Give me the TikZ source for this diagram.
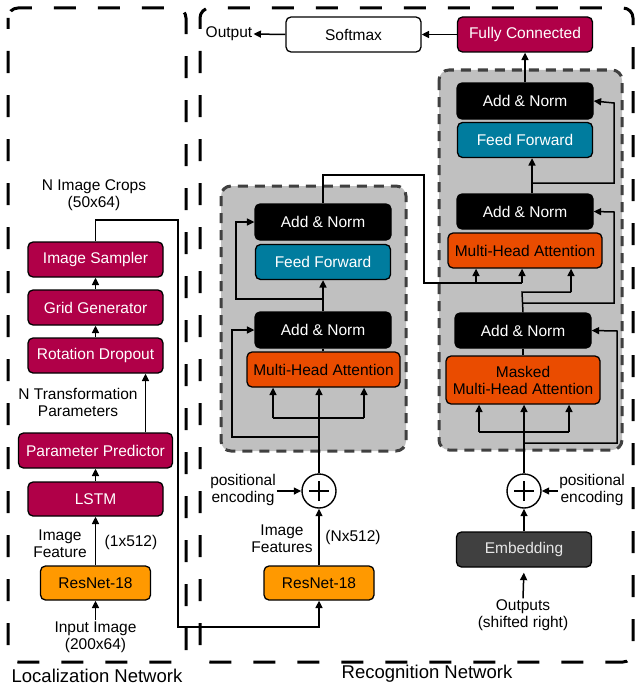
\documentclass[tikz,border=0pt]{standalone}
\usepackage{fontspec}
\setmainfont{Liberation Sans}
\usetikzlibrary{arrows.meta,calc}
\definecolor{crim}{RGB}{176,0,72}
\definecolor{resor}{RGB}{255,153,0}
\definecolor{mhaor}{RGB}{234,76,0}
\definecolor{teal}{RGB}{0,124,158}
\definecolor{blockgray}{RGB}{192,192,192}
\definecolor{blockedge}{RGB}{64,64,64}
\definecolor{embgray}{RGB}{64,64,64}
\definecolor{embtext}{RGB}{230,230,230}
\begin{document}
\begin{tikzpicture}[x=1pt,y=-1pt,
  every node/.style={font=\fontsize{15.5}{17}\selectfont},
  box/.style={draw=black, line width=1.3pt, rounded corners=5pt, inner sep=0pt, align=center},
  crimbox/.style={box, fill=crim, text=white, minimum width=135pt, minimum height=35pt},
  resbox/.style={box, fill=resor, text=black, minimum width=110pt, minimum height=34pt},
  mhabox/.style={box, fill=mhaor, text=black, minimum width=153pt, minimum height=35pt},
  normbox/.style={box, fill=black, text=white, minimum width=136pt, minimum height=36pt},
  ffbox/.style={box, fill=teal, text=white, minimum width=135pt, minimum height=35pt},
  plain/.style={align=center, inner sep=1pt},
  outerdash/.style={draw=black, line width=3pt, rounded corners=10pt, dash pattern=on 22pt off 22pt, dash phase=11pt},
  blockdash/.style={draw=blockedge, fill=blockgray, line width=3pt, rounded corners=10pt, dash pattern=on 10pt off 7pt},
  conn/.style={line width=1.5pt},
  arr/.style={line width=1.5pt, -{Triangle[length=7.5pt,width=7pt]}},
  sumnode/.style={circle, draw=black, line width=1.4pt, minimum size=34pt, inner sep=0pt}
]
\useasboundingbox (0,0) rectangle (637,685);

% outer regions
\draw[outerdash] (8,8) rectangle (186,662);
\draw[outerdash] (200,8) rectangle (633,662);
\node[plain, font=\fontsize{18.5}{20}\selectfont] (locl) at (97,675.5) {Localization Network};
\node[plain, font=\fontsize{18.5}{20}\selectfont] (recl) at (427,674) {Recognition Network};

% transformer blocks
\draw[blockdash] (221,186) rectangle (406,451);
\draw[blockdash] (439,70) rectangle (622,450);

% ---------------- Localization network ----------------
\node[crimbox] (sampler) at (95.5,259.5) {Image Sampler};
\node[crimbox] (grid) at (95.5,307.5) {Grid Generator};
\node[crimbox] (rot) at (95.5,355.5) {Rotation Dropout};
\node[crimbox, minimum width=154pt] (pred) at (95.5,450.5) {Parameter Predictor};
\node[crimbox, minimum height=34pt] (lstm) at (95.5,499) {LSTM};
\node[resbox] (res1) at (95.5,583) {ResNet-18};
\node[plain] (inimg) at (95.5,637) {Input Image\\(200x64)};
\node[plain] (imgfeat) at (60,544) {Image\\Feature};
\node[plain] (dim1) at (131,542) {(1x512)};
\node[plain] (ntp) at (78,402.5) {N Transformation\\Parameters};
\node[plain] (nic) at (94,195.5) {N Image Crops\\(50x64)};

\draw[arr] (inimg.north) -- (res1.south);
\draw[arr] (res1.north) -- (lstm.south);
\draw[arr] (lstm.north) -- (pred.south);
\draw[arr] ([xshift=50pt]pred.north) -- ([xshift=50pt]rot.south);
\draw[arr] (rot.north) -- (grid.south);
\draw[arr] (grid.north) -- (sampler.south);

% ---------------- Encoder ----------------
\node[resbox] (res2) at (319,583) {ResNet-18};
\node[sumnode] (plus1) at (319,491) {};
\draw[line width=1.6pt] ([xshift=-10pt]plus1.center) -- ([xshift=10pt]plus1.center)
  ([yshift=-10pt]plus1.center) -- ([yshift=10pt]plus1.center);
\node[plain] (imgfeats) at (282,539) {Image\\Features};
\node[plain] (dim2) at (353,537) {(Nx512)};
\node[plain] (pe1) at (243,490) {positional\\encoding};

\node[mhabox] (mha1) at (323.5,369.5) {Multi-Head Attention};
\node[normbox] (an1) at (323,330) {Add \& Norm};
\node[ffbox] (ff1) at (323,262) {Feed Forward};
\node[normbox] (an2) at (323,222) {Add \& Norm};

\coordinate (crossL) at (178,220);
\coordinate (crossB) at (178,627);
\draw[arr] (sampler.north) |- (crossL) -- (crossB) -| (res2.south);
\draw[arr] (res2.north) -- (plus1.south);
\draw[arr] (pe1.east |- plus1.west) -- (plus1.west);
\draw[arr] (plus1.north) -- (plus1.north |- mha1.south);
\coordinate (ebL) at (273,418);
\coordinate (ebR) at (364,418);
\draw[conn] (ebL) -- (ebR);
\draw[arr] (ebL) -- (ebL |- mha1.south);
\draw[arr] (ebR) -- (ebR |- mha1.south);
\coordinate (er1) at (319,437);
\coordinate (er1c) at (232,330);
\draw[arr] (er1) -| (er1c) -- (an1.west);
\draw[conn] (mha1.north -| an1.north) -- (an1.south);
\draw[arr] (an1.north) -- (ff1.south);
\coordinate (er2) at (323,299);
\coordinate (er2c) at (236,222);
\draw[arr] (er2) -| (er2c) -- (an2.west);

% ---------------- Decoder ----------------
\node[normbox] (antop) at (525,101) {Add \& Norm};
\node[ffbox] (ff2) at (525,140) {Feed Forward};
\node[normbox, minimum height=35pt] (anmid) at (525,211.5) {Add \& Norm};
\node[mhabox, minimum width=154pt] (mha2) at (525,250.5) {Multi-Head Attention};
\node[normbox, minimum height=35pt] (anlow) at (523,330.5) {Add \& Norm};
\node[mhabox, minimum width=154pt, minimum height=48pt] (mmha) at (523,380) {Masked\\Multi-Head Attention};
\node[sumnode] (plus2) at (524,491) {};
\draw[line width=1.6pt] ([xshift=-10pt]plus2.center) -- ([xshift=10pt]plus2.center)
  ([yshift=-10pt]plus2.center) -- ([yshift=10pt]plus2.center);
\node[box, fill=embgray, text=embtext, minimum width=135pt, minimum height=35pt] (emb) at (524,549.5) {Embedding};
\node[plain] (outs) at (523,615) {Outputs\\(shifted right)};
\node[plain] (pe2) at (592,490) {positional\\encoding};

\node[crimbox] (fc) at (525,34.5) {Fully Connected};
\node[box, fill=white, text=black, minimum width=135pt, minimum height=35pt] (soft) at (353.5,34.5) {Softmax};
\node[plain] (outp) at (229,34) {Output};

% encoder -> decoder cross attention
\coordinate (xa) at (424,175);
\coordinate (xb) at (424,283);
\coordinate (xL) at (476,283);
\coordinate (xR) at (522,283);
\draw[conn] (an2.north) |- (xa) -- (xb) -- (xR);
\draw[arr] (xL) -- (xL |- mha2.south);
\draw[arr] (xR) -- (xR |- mha2.south);

\draw[arr, shorten >=5pt] (outs.north) -- (emb.south);
\draw[arr] (emb.north) -- (plus2.south);
\draw[arr] (pe2.west |- plus2.east) -- (plus2.east);
\draw[arr] (plus2.north) -- (plus2.north |- mmha.south);
\coordinate (dbL) at (479,432);
\coordinate (dbR) at (569,432);
\draw[conn] (dbL) -- (dbR);
\draw[arr] (dbL) -- (dbL |- mmha.south);
\draw[arr] (dbR) -- (dbR |- mmha.south);
\coordinate (dr1) at (524,443);
\coordinate (dr1c) at (617,331);
\draw[arr] (dr1) -| (dr1c) -- (anlow.east);
\draw[conn] (mmha.north -| anlow.north) -- (anlow.south);
\coordinate (dq) at (522,292);
\coordinate (dqR) at (571,292);
\draw[conn] (anlow.north) -- (dq) -- (dqR);
\draw[arr] (dqR) -- (dqR |- mha2.south);
\coordinate (dr2) at (522,303);
\coordinate (dr2c) at (614,212);
\draw[arr] (dr2) -| (dr2c) -- (anmid.east);
\draw[arr] ([xshift=7pt]anmid.north) -- ([xshift=7pt]ff2.south);
\coordinate (dr3) at (532,183);
\coordinate (dr3c) at (614,103);
\draw[arr] (dr3) -| (dr3c) -- (antop.east);
\draw[arr] (antop.north) -- (fc.south);
\draw[arr] (fc.west) -- (soft.east);
\draw[arr] (soft.west) -- (outp.east);
\end{tikzpicture}
\end{document}
